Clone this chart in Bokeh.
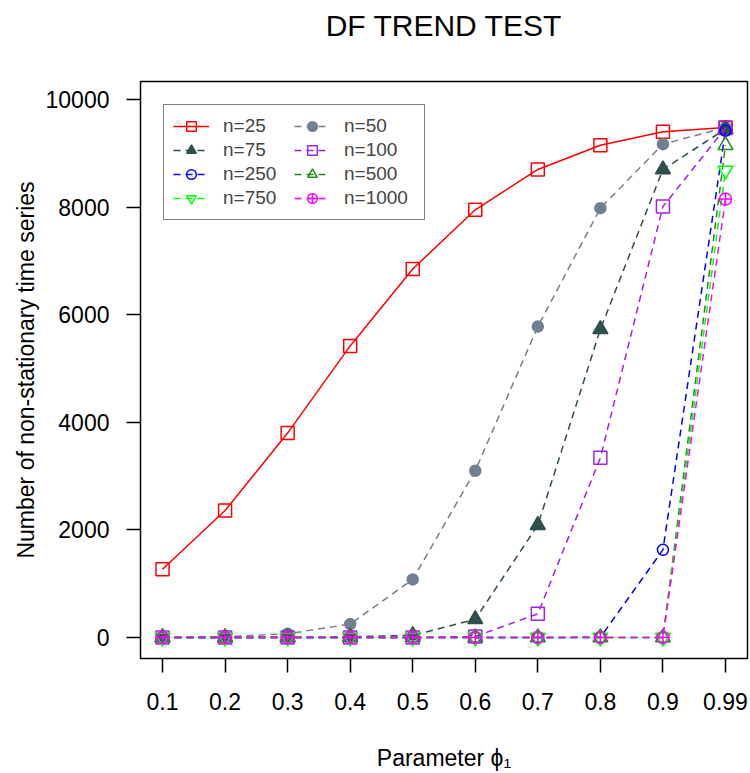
from bokeh.plotting import figure
from bokeh.models import Range1d, FixedTicker, Legend, LegendItem, LinearAxis
from bokeh.embed import file_html
from bokeh.resources import INLINE

# Autoregressive parameter values (equally spaced on the x axis)
phi_labels = ["0.1", "0.2", "0.3", "0.4", "0.5", "0.6", "0.7", "0.8", "0.9", "0.99"]
x_pos = [1, 2, 3, 4, 5, 6, 7, 8, 9, 10]

# Number of series judged non-stationary, per sample size
n25 = [1270, 2360, 3800, 5420, 6850, 7950, 8700, 9150, 9400, 9480]
n50 = [0, 15, 70, 250, 1080, 3100, 5780, 7980, 9170, 9480]
n75 = [0, 0, 5, 15, 40, 340, 2090, 5730, 8700, 9450]
n100 = [0, 0, 0, 0, 0, 20, 440, 3340, 8010, 9470]
n250 = [0, 0, 0, 0, 0, 0, 0, 5, 1630, 9420]
n500 = [0, 0, 0, 0, 0, 0, 0, 0, 0, 9150]
n750 = [0, 0, 0, 0, 0, 0, 0, 0, 0, 8680]
n1000 = [0, 0, 0, 0, 0, 0, 0, 0, 0, 8150]

series_names = ["n=25", "n=50", "n=75", "n=100", "n=250", "n=500", "n=750", "n=1000"]
series_values = [n25, n50, n75, n100, n250, n500, n750, n1000]

TITLE = "DF TREND TEST"
FONT = "Liberation Sans"

# color, marker, filled?, line dash, marker size
styles = [
    ("#FF0000", "square", False, "solid", 13),
    ("#708090", "circle", True, "7 5", 11),
    ("#2F4F4F", "triangle", True, "7 5", 15),
    ("#A020F0", "square", False, "7 5", 13),
    ("#0000FF", "circle", False, "7 5", 11),
    ("#228B22", "triangle", False, "7 5", 15),
    ("#00FF00", "inverted_triangle", False, "7 5", 15),
    ("#FF00FF", "circle_cross", False, "7 5", 12),
]

p = figure(
    width=750, height=773,
    output_backend="svg", toolbar_location=None,
    x_range=Range1d(0.648, 10.352), y_range=Range1d(-390, 10335),
    min_border_left=140, min_border_right=3,
    min_border_top=81, min_border_bottom=115,
)

p.background_fill_color = "white"
p.border_fill_color = "white"
p.outline_line_color = "black"
p.outline_line_width = 1.5
p.grid.visible = False

xax = p.below[0]
yax = p.left[0]

xax.ticker = FixedTicker(ticks=x_pos)
xax.major_label_overrides = {x: lab for x, lab in zip(x_pos, phi_labels)}
yax.ticker = FixedTicker(ticks=[0, 2000, 4000, 6000, 8000, 10000])

for ax in (xax, yax):
    ax.axis_line_color = None
    ax.major_tick_in = 0
    ax.major_tick_out = 14
    ax.major_tick_line_width = 1.5
    ax.major_tick_line_color = "black"
    ax.minor_tick_line_color = None
    ax.major_label_text_font = FONT
    ax.major_label_text_font_size = "23px"
    ax.major_label_text_color = "black"
    ax.axis_label_text_font = FONT
    ax.axis_label_text_font_size = "23px"
    ax.axis_label_text_font_style = "normal"
    ax.axis_label_text_color = "black"

xax.major_label_standoff = 20
yax.major_label_standoff = 17
xax.axis_label = "Parameter \u03d5\u2081"
yax.axis_label = "Number of non-stationary time series"
xax.axis_label_standoff = 32
yax.axis_label_standoff = 4

# main heading: a tickless axis above the frame carries the title text
head = LinearAxis(
    ticker=FixedTicker(ticks=[]), axis_label=TITLE,
    axis_line_color=None, major_tick_line_color=None, minor_tick_line_color=None,
    major_tick_out=0, major_tick_in=0, major_label_standoff=0,
    axis_label_standoff=40,
    axis_label_text_font=FONT, axis_label_text_font_size="30px",
    axis_label_text_font_style="normal", axis_label_text_color="black",
)
p.add_layout(head, "above")

renderer_map = {}
for name, vals, (color, marker, filled, dash, size) in zip(series_names, series_values, styles):
    ln = p.line(x_pos, vals, line_color=color, line_width=1.5, line_dash=dash)
    sc = p.scatter(
        x_pos, vals, marker=marker, size=size,
        line_color=color, line_width=1.5,
        fill_color=color if filled else None,
    )
    renderer_map[name] = [ln, sc]

# legend columns fill top to bottom: left column first, then right column
legend_order = ["n=25", "n=75", "n=250", "n=750", "n=50", "n=100", "n=500", "n=1000"]
items = [LegendItem(label=name, renderers=renderer_map[name]) for name in legend_order]

legend = Legend(
    items=items, ncols=2, location=(23, 438),
    border_line_color="black", border_line_width=1.5,
    background_fill_color="white", background_fill_alpha=1.0,
    label_text_font=FONT, label_text_font_size="19px",
    glyph_width=36, glyph_height=24, label_height=24, label_width=71,
    label_standoff=14, spacing=0, padding=9, margin=0,
)
p.add_layout(legend, "center")

open("out.html", "w").write(file_html(p, INLINE))
